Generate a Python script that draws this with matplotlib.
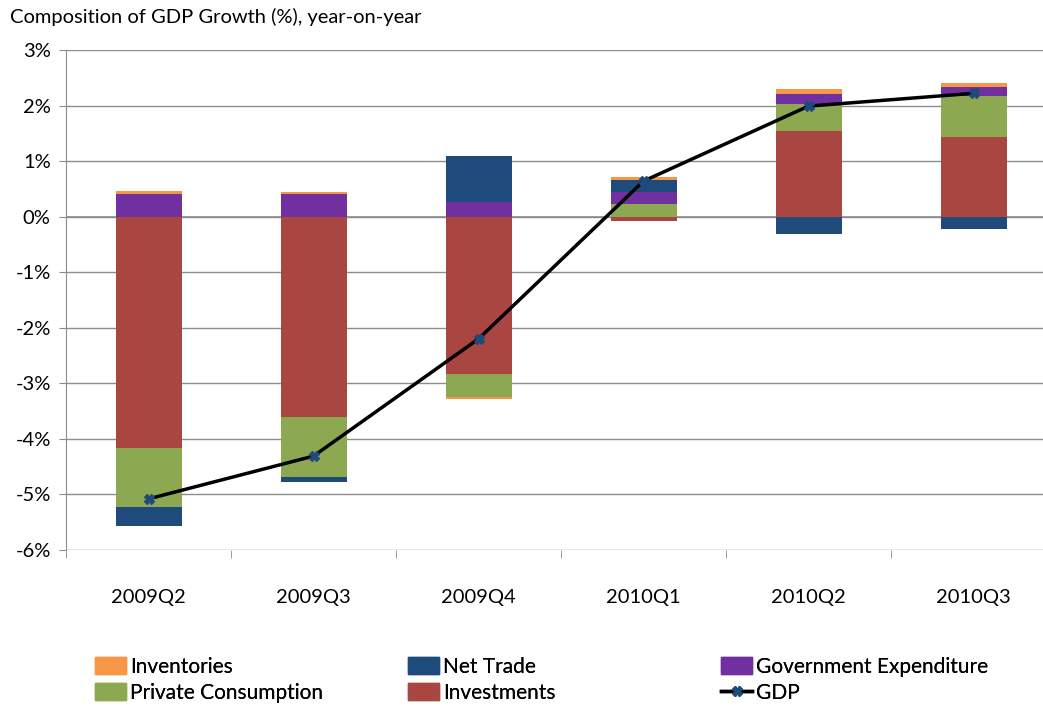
import numpy as np
import matplotlib.pyplot as plt
from matplotlib.lines import Line2D
from matplotlib.patches import Patch

plt.rcParams['font.family'] = ['Lato', 'DejaVu Sans']

quarters = ["2009Q2", "2009Q3", "2009Q4", "2010Q1", "2010Q2", "2010Q3"]

investments = [-4.16, -3.61, -2.83, -0.07, 1.55, 1.44]
private_consumption = [-1.06, -1.08, -0.42, 0.22, 0.47, 0.73]
government = [0.41, 0.41, 0.26, 0.23, 0.19, 0.17]
net_trade = [-0.34, -0.08, 0.84, 0.21, -0.31, -0.22]
inventories = [0.06, 0.04, -0.04, 0.05, 0.08, 0.07]
gdp = [-5.08, -4.31, -2.20, 0.64, 1.99, 2.22]

series = [
    ("Investments", investments, "#A94642"),
    ("Private Consumption", private_consumption, "#8CA850"),
    ("Government Expenditure", government, "#7030A0"),
    ("Net Trade", net_trade, "#1F4A7C"),
    ("Inventories", inventories, "#F79646"),
]

fig = plt.figure(figsize=(10.43, 7.07), dpi=100)
ax = fig.add_axes([66 / 1043, 157 / 707, 990 / 1043, 500 / 707])

x = np.arange(len(quarters))
pos_base = np.zeros(len(quarters))
neg_base = np.zeros(len(quarters))
for name, vals, col in series:
    v = np.array(vals)
    bottoms = np.where(v >= 0, pos_base, neg_base)
    ax.bar(x, v, width=0.4, bottom=bottoms, color=col, zorder=2)
    pos_base = pos_base + np.where(v >= 0, v, 0)
    neg_base = neg_base + np.where(v < 0, v, 0)

ax.plot(x, gdp, color="black", lw=2.5, zorder=3, marker="X", ms=7,
        markerfacecolor="#1F4A7C", markeredgecolor="#1F4A7C")

ax.set_xlim(-0.5, len(quarters) - 0.5)
ax.set_ylim(-6, 3)
ax.set_yticks(np.arange(-6, 4, 1))
ax.set_yticklabels([f"{t}%" for t in range(-6, 4)])
ax.yaxis.grid(True, color="#8C8C8C", lw=1, zorder=0)
ax.set_axisbelow(True)

ax.set_xticks(x)
ax.set_xticklabels(quarters)
ax.set_xticks(np.arange(-0.5, len(quarters), 1), minor=True)
ax.tick_params(axis="x", which="major", length=0, pad=28, labelsize=14.5)
ax.tick_params(axis="x", which="minor", length=6, color="#8C8C8C")
ax.tick_params(axis="y", length=5, color="#8C8C8C", labelsize=14.5, pad=6)

for s in ["top", "right", "bottom"]:
    ax.spines[s].set_visible(False)
ax.spines["left"].set_color("#8C8C8C")
ax.axhline(0, color="#8C8C8C", lw=1.2, zorder=1)

fig.text(10 / 1043, 1 - 17 / 707, "Composition of GDP Growth (%), year-on-year",
         fontsize=14.5, va="center", ha="left")

gdp_handle = Line2D([], [], color="black", lw=2.5, marker="X", ms=7,
                    markerfacecolor="#1F4A7C", markeredgecolor="#1F4A7C", label="GDP")
legend_cols = [
    [Patch(color="#F79646", label="Inventories"),
     Patch(color="#8CA850", label="Private Consumption")],
    [Patch(color="#1F4A7C", label="Net Trade"),
     Patch(color="#A94642", label="Investments")],
    [Patch(color="#7030A0", label="Government Expenditure"), gdp_handle],
]
for i, hs in enumerate(legend_cols):
    leg = fig.legend(handles=hs, loc="lower left",
                     bbox_to_anchor=((95 + 313 * i) / 1043, 4 / 707), frameon=False,
                     fontsize=15, handlelength=1.5, handleheight=0.9,
                     handletextpad=0.2, labelspacing=0.3, borderaxespad=0.0,
                     borderpad=0.0)
    fig.add_artist(leg)

fig.savefig("out.png", dpi=100)
